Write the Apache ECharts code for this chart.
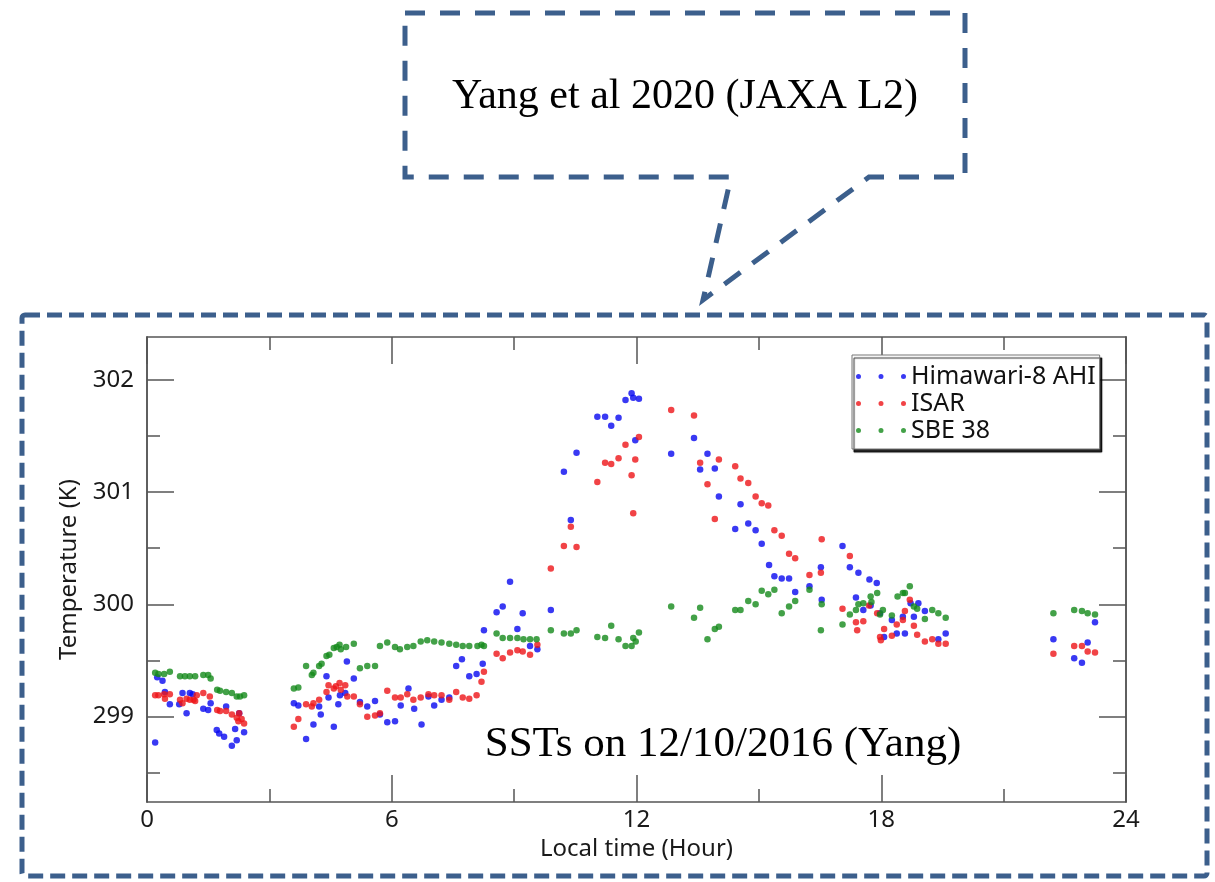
<!DOCTYPE html>
<html>
<head>
<meta charset="utf-8">
<script src="https://cdn.jsdelivr.net/npm/echarts@6/dist/echarts.min.js"></script>
<style>
html,body{margin:0;padding:0;background:#fff;}
#chart{width:1215px;height:882px;}
</style>
</head>
<body>
<div id="chart"></div>
<script>
// ---- data (local time in hours, temperature in K) ----
const ahiTime = [0.20,0.25,0.38,0.44,0.56,0.79,0.87,0.97,1.05,1.12,1.38,1.50,1.56,1.71,1.77,1.89,1.94,2.08,2.16,2.20,2.26,2.38,
3.60,3.71,3.90,4.08,4.22,4.26,4.40,4.45,4.58,4.69,4.73,4.86,4.90,5.07,5.22,5.40,5.59,5.71,5.89,6.08,6.22,6.41,6.55,6.73,6.90,7.04,7.22,7.41,7.58,7.72,7.90,8.08,8.23,8.26,8.57,8.72,8.90,9.08,9.21,9.39,9.57,9.90,10.22,10.39,10.53,11.04,11.23,11.38,11.56,11.73,11.88,11.92,11.97,12.06,
12.85,13.41,13.56,13.74,13.92,14.02,14.42,14.55,14.74,14.92,15.07,15.25,15.38,15.56,15.74,15.89,16.24,16.52,16.54,17.05,17.23,17.38,17.44,17.56,17.71,17.74,17.89,17.97,18.07,18.26,18.38,18.53,18.58,18.72,18.80,18.91,19.07,19.40,19.58,22.22,22.73,22.92,23.06,23.24];
const ahiTemp = [298.77,299.35,299.32,299.22,299.11,299.11,299.21,299.03,299.21,299.20,299.07,299.06,299.12,298.88,298.85,298.82,299.09,298.74,298.89,298.79,299.03,298.86,
299.12,299.10,298.80,298.93,299.09,299.02,299.36,299.17,298.91,299.11,299.19,299.21,299.49,299.34,299.13,299.09,299.14,299.02,298.95,298.96,299.10,299.25,299.07,298.93,299.18,299.10,299.15,299.17,299.45,299.51,299.36,299.38,299.47,299.77,299.93,299.98,300.20,299.78,299.92,299.63,299.60,299.95,301.18,300.75,301.35,301.67,301.67,301.59,301.66,301.82,301.88,301.84,301.46,301.83,
301.34,301.48,301.20,301.34,301.21,300.96,300.67,300.89,300.72,300.66,300.54,300.35,300.25,300.23,300.23,300.11,300.16,300.33,300.04,300.52,300.33,300.06,300.28,299.95,300.22,299.99,300.19,299.92,299.71,299.86,299.74,299.89,299.74,300.01,299.89,300.01,299.94,299.69,299.74,299.69,299.52,299.48,299.66,299.84];

const isarTime = [0.20,0.28,0.42,0.44,0.56,0.81,0.87,0.97,1.05,1.14,1.18,1.22,1.38,1.54,1.72,1.79,1.94,2.08,2.20,2.24,2.26,2.32,2.38,
3.60,3.71,3.90,4.04,4.08,4.22,4.40,4.45,4.58,4.63,4.72,4.75,4.86,4.91,5.07,5.22,5.40,5.59,5.71,5.89,6.08,6.22,6.38,6.53,6.71,6.90,7.04,7.22,7.41,7.58,7.74,7.90,8.08,8.20,8.26,8.57,8.72,8.90,9.08,9.21,9.39,9.57,9.90,10.22,10.39,10.53,11.04,11.23,11.38,11.56,11.73,11.88,11.92,11.97,12.06,
12.85,13.41,13.56,13.74,13.92,14.02,14.42,14.55,14.74,14.92,15.07,15.23,15.38,15.56,15.74,15.89,16.24,16.52,16.54,17.05,17.23,17.38,17.41,17.56,17.70,17.90,17.97,17.99,18.07,18.26,18.38,18.53,18.58,18.70,18.80,18.88,19.07,19.25,19.40,19.58,22.22,22.73,22.92,23.06,23.24];
const isarTemp = [299.19,299.19,299.20,299.16,299.20,299.15,299.12,299.16,299.15,299.15,299.14,299.19,299.21,299.18,299.06,299.05,299.05,299.02,298.99,298.96,299.03,298.98,298.94,
298.91,298.98,299.11,299.09,299.12,299.15,299.22,299.28,299.25,299.27,299.30,299.24,299.28,299.18,299.18,299.11,299.00,299.01,299.03,299.23,299.17,299.17,299.20,299.15,299.17,299.20,299.19,299.19,299.15,299.22,299.17,299.16,299.19,299.31,299.40,299.56,299.52,299.57,299.59,299.58,299.55,299.64,300.32,300.52,300.69,300.51,301.09,301.26,301.25,301.30,301.42,301.15,300.81,301.29,301.49,
301.73,301.68,301.26,301.07,300.76,301.29,301.23,301.12,301.08,300.96,300.90,300.88,300.66,300.61,300.45,300.41,300.26,300.28,300.58,299.96,300.43,299.84,299.77,299.85,299.99,299.92,299.71,299.68,299.78,299.72,299.82,299.86,299.94,300.04,299.81,299.73,299.67,299.69,299.65,299.65,299.56,299.63,299.63,299.58,299.57];

const sbeTime = [0.20,0.28,0.42,0.56,0.81,0.93,1.05,1.18,1.38,1.50,1.56,1.72,1.79,1.94,2.08,2.20,2.28,2.38,
3.60,3.71,3.90,4.04,4.08,4.22,4.28,4.40,4.47,4.58,4.65,4.72,4.75,4.88,5.07,5.22,5.40,5.59,5.71,5.89,6.08,6.20,6.38,6.53,6.71,6.87,7.04,7.22,7.41,7.58,7.74,7.90,8.10,8.20,8.26,8.57,8.72,8.90,9.08,9.23,9.39,9.55,9.90,10.22,10.39,10.53,11.04,11.23,11.38,11.56,11.73,11.88,11.92,11.98,12.06,
12.85,13.41,13.56,13.74,13.92,14.02,14.42,14.55,14.74,14.92,15.07,15.23,15.38,15.56,15.74,15.89,16.24,16.52,16.54,17.05,17.23,17.38,17.44,17.56,17.74,17.76,17.90,17.97,18.04,18.26,18.40,18.53,18.58,18.70,18.80,18.88,19.07,19.25,19.40,19.58,22.22,22.73,22.92,23.06,23.24];
const sbeTemp = [299.39,299.38,299.38,299.40,299.36,299.36,299.36,299.36,299.37,299.37,299.34,299.24,299.23,299.22,299.21,299.18,299.18,299.19,
299.25,299.26,299.45,299.37,299.39,299.45,299.47,299.54,299.55,299.61,299.62,299.64,299.60,299.62,299.65,299.43,299.45,299.45,299.63,299.66,299.62,299.60,299.62,299.63,299.67,299.68,299.67,299.66,299.65,299.64,299.63,299.63,299.63,299.64,299.63,299.74,299.70,299.70,299.70,299.69,299.69,299.69,299.77,299.74,299.74,299.77,299.71,299.70,299.81,299.69,299.63,299.63,299.70,299.67,299.75,
299.98,299.88,299.97,299.69,299.78,299.80,299.95,299.95,300.03,300.00,300.12,300.09,300.13,299.92,299.98,300.03,300.13,299.77,300.00,299.82,299.91,299.95,300.00,300.01,300.07,300.02,300.10,299.91,299.95,299.90,300.07,300.10,300.10,300.16,299.98,299.96,299.87,299.95,299.92,299.88,299.92,299.95,299.94,299.92,299.91];

const seriesNames = ['Himawari-8 AHI', 'ISAR', 'SBE 38'];
const xTicks = [0, 6, 12, 18, 24];
const yMajorTicks = [299, 300, 301, 302];
const yMinorTicks = [298.5, 299.5, 300.5, 301.5];

// ---- styles ----
const SANS = "'Noto Sans', 'Open Sans', sans-serif";
const SERIF = "'Liberation Serif', 'Times New Roman', serif";
const AX = '#555';
const DASH = '#3C5F8C';
const COLORS = ['#0808f0', '#ee1418', '#14891a'];

function zip(a, b) { return a.map((v, i) => [v, b[i]]); }

const chart = echarts.init(document.getElementById('chart'), null, {renderer: 'canvas'});

const X_MIN = xTicks[0], X_MAX = xTicks[xTicks.length - 1];
const Y_MIN = 298.24, Y_MAX = 302.38;

function xAxisDef(pos, labels) {
  return {
    type: 'value', position: pos, min: X_MIN, max: X_MAX, interval: xTicks[1] - xTicks[0],
    axisLine: {show: true, lineStyle: {color: AX, width: 1.5}},
    axisTick: {show: true, inside: true, length: 27, lineStyle: {color: AX, width: 1.5}},
    minorTick: {show: true, splitNumber: 2, length: 13, lineStyle: {color: AX, width: 1.5}},
    splitLine: {show: false}, minorSplitLine: {show: false},
    axisLabel: {show: labels, fontSize: 24, color: '#1a1a1a', fontFamily: SANS, margin: 6},
    name: labels ? 'Local time (Hour)' : '',
    nameLocation: 'middle', nameGap: 32,
    nameTextStyle: {fontSize: 24, color: '#1a1a1a', fontFamily: SANS}
  };
}
function yAxisDef(pos, ticks, len, labels) {
  return {
    type: 'value', position: pos, min: Y_MIN, max: Y_MAX,
    axisLine: {show: true, lineStyle: {color: AX, width: 1.5}},
    axisTick: {show: true, inside: true, length: len, customValues: ticks, lineStyle: {color: AX, width: 1.5}},
    splitLine: {show: false},
    axisLabel: {show: labels, customValues: ticks, fontSize: 24, color: '#1a1a1a', fontFamily: SANS, margin: 13},
    name: labels ? 'Temperature (K)' : '',
    nameLocation: 'middle', nameGap: 66, nameRotate: 90,
    nameTextStyle: {fontSize: 24, color: '#1a1a1a', fontFamily: SANS}
  };
}

const iconPath = 'path://M0,2.5a2.5,2.5 0 1,0 5,0a2.5,2.5 0 1,0 -5,0Z M22.5,2.5a2.5,2.5 0 1,0 5,0a2.5,2.5 0 1,0 -5,0Z M45,2.5a2.5,2.5 0 1,0 5,0a2.5,2.5 0 1,0 -5,0Z';

const option = {
  animation: false,
  backgroundColor: '#fff',
  grid: {left: 147, top: 337, width: 979, height: 465, containLabel: false},
  xAxis: [xAxisDef('bottom', true), xAxisDef('top', false)],
  yAxis: [
    yAxisDef('left', yMajorTicks, 27, true),
    yAxisDef('left', yMinorTicks, 13, false),
    yAxisDef('right', yMajorTicks, 27, false),
    yAxisDef('right', yMinorTicks, 13, false)
  ],
  legend: {
    orient: 'vertical', left: 852, top: 355,
    data: seriesNames,
    icon: iconPath, itemWidth: 50, itemHeight: 5, itemGap: 2,
    padding: [9, 4, 6, 4],
    backgroundColor: '#fff', borderColor: '#777', borderWidth: 1,
    shadowColor: 'rgba(0,0,0,0.85)', shadowOffsetX: 2, shadowOffsetY: 3, shadowBlur: 1,
    textStyle: {fontSize: 25, color: '#111', fontFamily: SANS}
  },
  series: [
    {name: seriesNames[0], type: 'scatter', data: zip(ahiTime, ahiTemp), symbolSize: 6.5, itemStyle: {color: COLORS[0]}, z: 3},
    {name: seriesNames[1], type: 'scatter', data: zip(isarTime, isarTemp), symbolSize: 6.5, itemStyle: {color: COLORS[1]}, z: 3},
    {name: seriesNames[2], type: 'scatter', data: zip(sbeTime, sbeTemp), symbolSize: 6.5, itemStyle: {color: COLORS[2]}, z: 3}
  ],
  graphic: [
    {
      type: 'rect', z: 1, silent: true,
      shape: {x: 22, y: 315, width: 1185, height: 561, r: 3},
      style: {fill: 'none', stroke: DASH, lineWidth: 5, lineDash: [15, 7]}
    },
    {
      type: 'polygon', z: 1, silent: true,
      shape: {points: [[405, 13], [965, 13], [965, 177], [869, 177], [703, 300], [731, 177], [405, 177]]},
      style: {fill: 'none', stroke: DASH, lineWidth: 5, lineDash: [20, 15]}
    },
    {
      type: 'text', z: 10, silent: true, x: 685, y: 97,
      style: {text: 'Yang et al 2020 (JAXA L2)', font: '42px ' + SERIF, fill: '#000', align: 'center', verticalAlign: 'middle'}
    },
    {
      type: 'text', z: 10, silent: true, x: 723, y: 745,
      style: {text: 'SSTs on 12/10/2016 (Yang)', font: '43px ' + SERIF, fill: '#000', align: 'center', verticalAlign: 'middle'}
    }
  ]
};
chart.setOption(option);
</script>
</body>
</html>
